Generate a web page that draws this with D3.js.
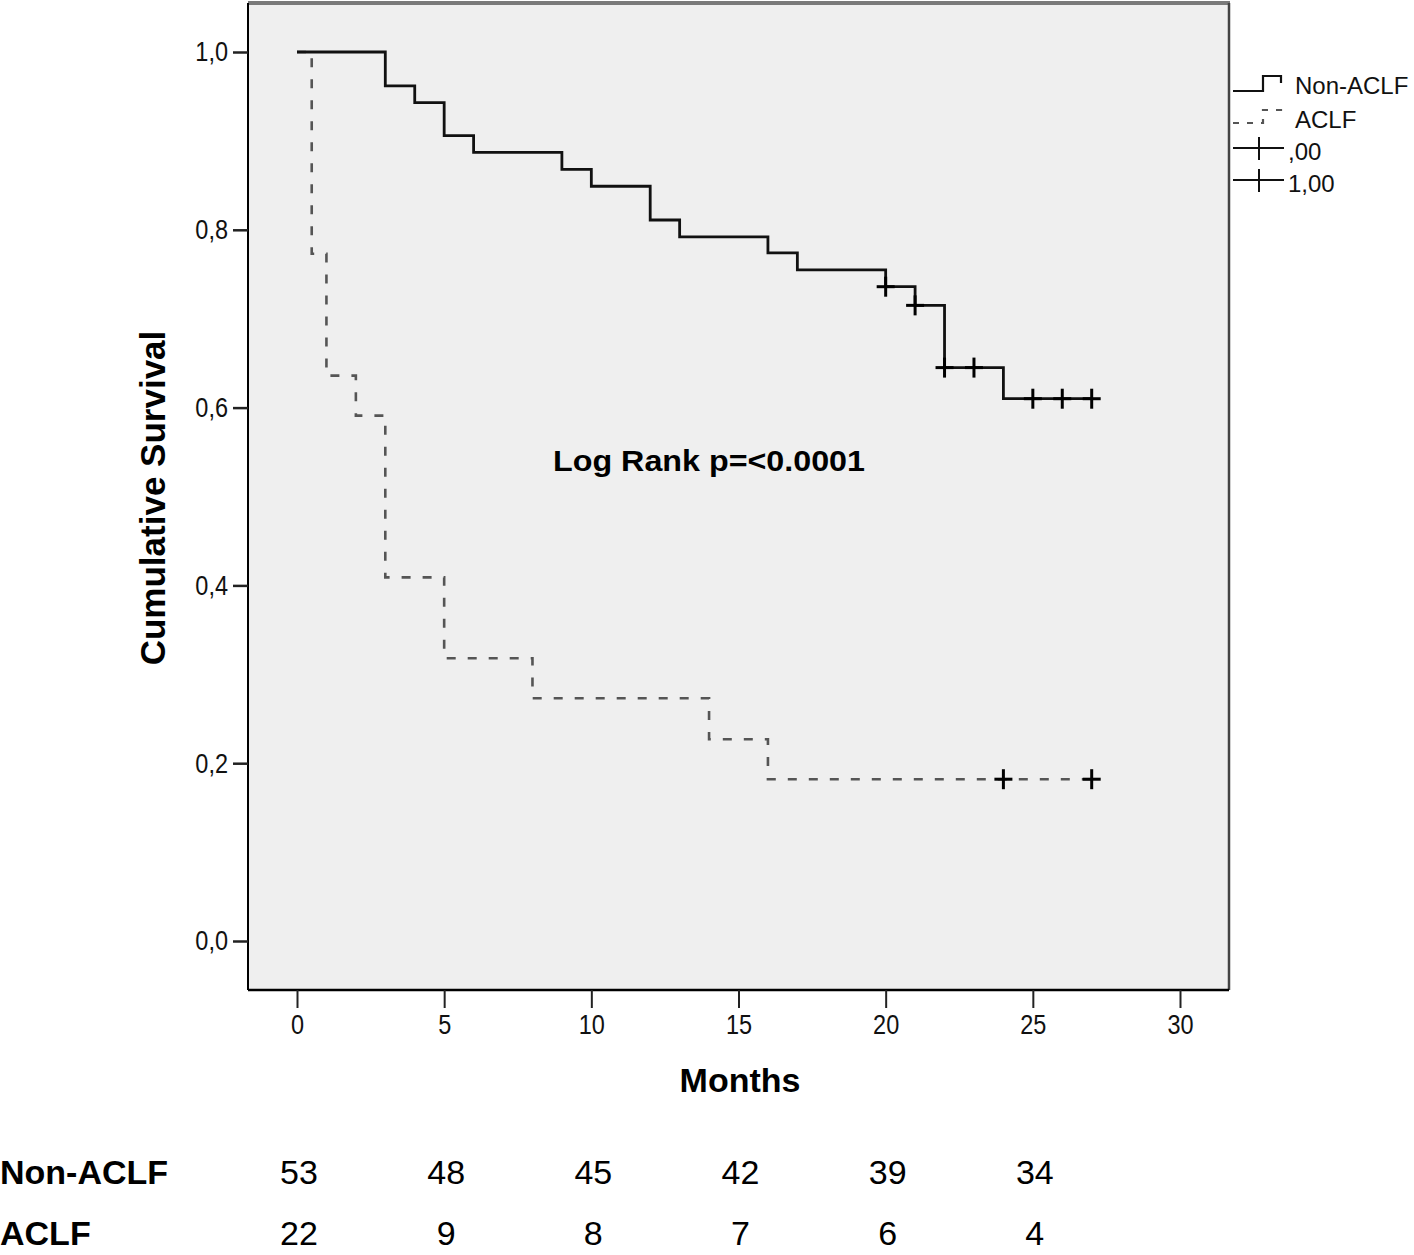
<!DOCTYPE html>
<html>
<head>
<meta charset="utf-8">
<script src="https://cdn.jsdelivr.net/npm/d3@7/dist/d3.min.js"></script>
<style>
  html, body { margin: 0; padding: 0; background: #fff; }
  svg { display: block; }
</style>
</head>
<body>
<svg id="chart" width="1414" height="1255"></svg>
<script>
// ---- data ----
const groups = ["Non-ACLF", "ACLF"];
const nonAclfTimes = [0, 3, 4, 5, 6, 9, 10, 12, 13, 16, 17, 20, 21, 22, 24, 27];
const nonAclfSurv  = [1.0, 0.962, 0.943, 0.906, 0.887, 0.868, 0.849, 0.811, 0.792, 0.774, 0.755, 0.736, 0.715, 0.645, 0.610, 0.610];
const nonAclfCensorTimes = [20, 21, 22, 23, 25, 26, 27];
const nonAclfCensorSurv  = [0.736, 0.715, 0.645, 0.645, 0.610, 0.610, 0.610];
const aclfTimes = [0, 0.5, 1, 2, 3, 5, 8, 14, 16, 27];
const aclfSurv  = [1.0, 0.773, 0.636, 0.591, 0.409, 0.318, 0.273, 0.227, 0.182, 0.182];
const aclfCensorTimes = [24, 27];
const aclfCensorSurv  = [0.182, 0.182];
const xTicks = [0, 5, 10, 15, 20, 25, 30];
const yTicks = [0, 0.2, 0.4, 0.6, 0.8, 1.0];
const riskTimes = [0, 5, 10, 15, 20, 25];
const riskNonAclf = [53, 48, 45, 42, 39, 34];
const riskAclf = [22, 9, 8, 7, 6, 4];
const legendLabels = ["Non-ACLF", "ACLF", ",00", "1,00"];
const annotation = "Log Rank p=<0.0001";

// ---- layout ----
const svg = d3.select("#chart");
const plot = { left: 248, right: 1229, top: 3, bottom: 990 };
const x = d3.scaleLinear().domain([0, 30]).range([297, 1180]);
const y = d3.scaleLinear().domain([0, 1]).range([941, 52]);
const sans = "'Liberation Sans', Arial, Helvetica, sans-serif";
const squeeze = 0.84;

// plot background
svg.append("rect")
  .attr("x", plot.left).attr("y", plot.top)
  .attr("width", plot.right - plot.left).attr("height", plot.bottom - plot.top)
  .attr("fill", "#efefef");
// borders
svg.append("line").attr("x1", plot.left).attr("x2", plot.right + 1)
  .attr("y1", plot.top).attr("y2", plot.top)
  .attr("stroke", "#7a7a7a").attr("stroke-width", 4);
svg.append("line").attr("x1", plot.right).attr("x2", plot.right)
  .attr("y1", plot.top).attr("y2", plot.bottom)
  .attr("stroke", "#444").attr("stroke-width", 2.5);

// axes
const yAxis = d3.axisLeft(y).tickValues(yTicks).tickSize(15).tickPadding(4)
  .tickFormat(d => d3.format(".1f")(d).replace(".", ","));
const gy = svg.append("g").attr("transform", `translate(${plot.left},0)`).call(yAxis);
gy.select(".domain").attr("d", `M0,${plot.top}V${plot.bottom}`).attr("stroke", "#000").attr("stroke-width", 2);
gy.selectAll(".tick line").attr("stroke", "#222").attr("stroke-width", 2.5);
gy.selectAll(".tick text").attr("font-family", sans).attr("font-size", 28).attr("fill", "#111")
  .attr("x", -20 / squeeze).attr("transform", `scale(${squeeze},1)`);

const xAxis = d3.axisBottom(x).tickValues(xTicks).tickSize(18).tickPadding(8);
const gx = svg.append("g").attr("transform", `translate(0,${plot.bottom})`).call(xAxis);
gx.select(".domain").attr("d", `M${plot.left},0H${plot.right}`).attr("stroke", "#000").attr("stroke-width", 2.5);
gx.selectAll(".tick line").attr("stroke", "#222").attr("stroke-width", 2);
gx.selectAll(".tick text").attr("font-family", sans).attr("font-size", 28).attr("fill", "#111")
  .attr("transform", `scale(${squeeze},1)`).attr("y", 24);

// axis titles
svg.append("text").attr("x", 740).attr("y", 1092).attr("text-anchor", "middle")
  .attr("font-family", sans).attr("font-weight", "bold").attr("font-size", 34).text("Months");
svg.append("text").attr("transform", "translate(165,498) rotate(-90)").attr("text-anchor", "middle")
  .attr("font-family", sans).attr("font-weight", "bold").attr("font-size", 35).text("Cumulative Survival");

// survival curves
const line = d3.line().x(d => x(d[0])).y(d => y(d[1])).curve(d3.curveStepAfter);
const nonData = nonAclfTimes.map((t, i) => [t, nonAclfSurv[i]]);
const aclfData = aclfTimes.map((t, i) => [t, aclfSurv[i]]);

svg.append("path").datum(aclfData).attr("d", line)
  .attr("fill", "none").attr("stroke", "#555").attr("stroke-width", 2.6)
  .attr("stroke-dasharray", "9,12");
svg.append("path").datum(nonData).attr("d", line)
  .attr("fill", "none").attr("stroke", "#111").attr("stroke-width", 2.8);

// censor marks
function censor(times, surv) {
  const g = svg.append("g");
  times.forEach((t, i) => {
    const cx = x(t), cy = y(surv[i]);
    g.append("line").attr("x1", cx - 9).attr("x2", cx + 9).attr("y1", cy).attr("y2", cy)
      .attr("stroke", "#000").attr("stroke-width", 3);
    g.append("line").attr("x1", cx).attr("x2", cx).attr("y1", cy - 10).attr("y2", cy + 10)
      .attr("stroke", "#000").attr("stroke-width", 3);
  });
}
censor(nonAclfCensorTimes, nonAclfCensorSurv);
censor(aclfCensorTimes, aclfCensorSurv);

// annotation
svg.append("text").attr("x", 553).attr("y", 471)
  .attr("font-family", sans).attr("font-weight", "bold").attr("font-size", 30)
  .attr("textLength", 312).attr("lengthAdjust", "spacingAndGlyphs").text(annotation);

// legend
const lg = svg.append("g");
const legY = [86, 120, 152, 184];
lg.append("path").attr("d", `M1233,${legY[0] + 5}H1263V${legY[0] - 10}H1281V${legY[0] - 3}`)
  .attr("fill", "none").attr("stroke", "#111").attr("stroke-width", 2.2);
lg.append("path").attr("d", `M1233,${legY[1] + 3}H1263V${legY[1] - 10}H1281V${legY[1] - 2}`)
  .attr("fill", "none").attr("stroke", "#555").attr("stroke-width", 2.2).attr("stroke-dasharray", "6,8");
[2, 3].forEach(k => {
  const cy = legY[k] - 4;
  lg.append("line").attr("x1", 1233).attr("x2", 1284).attr("y1", cy).attr("y2", cy)
    .attr("stroke", "#111").attr("stroke-width", 2);
  lg.append("line").attr("x1", 1259).attr("x2", 1259).attr("y1", cy - 11).attr("y2", cy + 12)
    .attr("stroke", "#111").attr("stroke-width", 2);
});
legendLabels.forEach((lab, i) => {
  lg.append("text").attr("x", i < 2 ? 1295 : 1288).attr("y", legY[i] + 8)
    .attr("font-family", sans).attr("font-size", 24).attr("fill", "#111").text(lab);
});

// number at risk table
const rows = [
  { name: groups[0], vals: riskNonAclf, y: 1184 },
  { name: groups[1], vals: riskAclf, y: 1245 }
];
rows.forEach(r => {
  svg.append("text").attr("x", 0).attr("y", r.y)
    .attr("font-family", sans).attr("font-weight", "bold").attr("font-size", 34).text(r.name);
  r.vals.forEach((v, i) => {
    svg.append("text").attr("x", x(riskTimes[i]) + 2).attr("y", r.y).attr("text-anchor", "middle")
      .attr("font-family", sans).attr("font-size", 34).text(v);
  });
});
</script>
</body>
</html>
